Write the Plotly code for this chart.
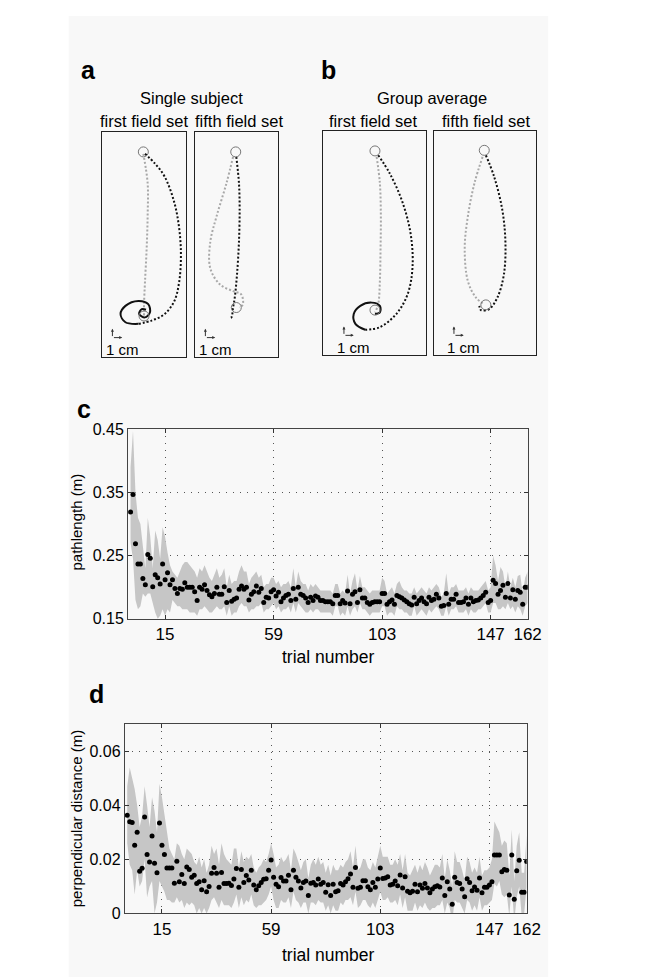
import plotly.graph_objects as go

W, H = 654, 978
FONT = "Liberation Sans, Arial, sans-serif"

# ---- panel a/b trajectories (cm, start target at origin) ----
a1_grey_x = [0.0, 0.44, 0.44, 0.34, 0.17, 0.07, 0.07]
a1_grey_y = [-0.2, -3.2, -6.5, -9.8, -13.2, -15.5, -16.7]
a1_black_x = [0.17, 1.17, 2.17, 3.17, 3.67, 3.84, 3.67, 3.17, 2.17, 0.84, -0.5]
a1_black_y = [-0.2, -1.17, -2.5, -5.17, -7.84, -10.5, -13.17, -15.17, -16.5, -17.17, -17.5]
a1_loop_x = [-0.5, -1.83, -2.33, -1.83, -0.5, 0.5, 0.67, 0.17, -0.43, -0.16, 0.27]
a1_loop_y = [-17.5, -17.34, -16.5, -15.67, -15.17, -15.5, -16.34, -16.84, -16.5, -16.0, -16.07]
a1_end = (0.07, -16.7)

a2_grey_x = [-0.27, -0.94, -1.94, -2.6, -2.6, -1.6, -0.27, 0.56, 0.73, 0.4]
a2_grey_y = [-0.5, -3.17, -6.5, -9.17, -11.84, -13.5, -14.17, -14.5, -15.5, -15.84]
a2_black_x = [0.06, 0.33, 0.4, 0.33, 0.13, -0.1, -0.27, -0.44, -0.6]
a2_black_y = [-0.5, -3.17, -5.84, -9.17, -12.5, -14.84, -15.84, -16.84, -16.9]
a2_end = (0.06, -15.84)

b1_grey_x = [0.17, 0.5, 0.6, 0.57, 0.5, 0.33, 0.0]
b1_grey_y = [-0.6, -3.27, -6.6, -9.94, -13.27, -15.6, -16.44]
b1_black_x = [0.33, 1.5, 2.83, 3.67, 3.83, 3.33, 2.17, 0.5, -1.0]
b1_black_y = [-0.44, -2.27, -5.27, -8.6, -11.94, -14.6, -16.6, -17.94, -18.2]
b1_loop_x = [-1.0, -2.0, -2.17, -1.5, -0.33, 0.5, 0.5, 0.0]
b1_loop_y = [-18.2, -17.6, -16.6, -15.77, -15.44, -15.77, -16.44, -16.6]
b1_end = (0.0, -16.2)

b2_grey_x = [-0.17, -1.0, -1.67, -2.0, -1.67, -0.84, 0.0]
b2_grey_y = [-0.66, -3.33, -6.66, -10.0, -13.33, -15.0, -15.66]
b2_black_x = [0.16, 1.0, 1.83, 2.16, 2.0, 1.33, 0.5, -0.34, -0.5]
b2_black_y = [-0.5, -2.66, -6.0, -9.33, -12.66, -15.0, -16.16, -16.26, -15.83]
b2_end = (0.16, -15.73)

# ---- panel c: pathlength per trial ----
trials = list(range(1, 163))
c_mean = [0.319, 0.347, 0.269, 0.237, 0.237, 0.214, 0.204, 0.252, 0.246, 0.201,
          0.220, 0.215, 0.205, 0.237, 0.212, 0.223, 0.204, 0.212, 0.198, 0.190,
          0.198, 0.197, 0.207, 0.200, 0.200, 0.200, 0.193, 0.179, 0.200, 0.197,
          0.204, 0.195, 0.188, 0.185, 0.190, 0.200, 0.189, 0.189, 0.201, 0.176,
          0.195, 0.178, 0.181, 0.183, 0.197, 0.202, 0.197, 0.200, 0.180, 0.189,
          0.193, 0.202, 0.192, 0.198, 0.176, 0.184, 0.183, 0.193, 0.196, 0.186,
          0.192, 0.177, 0.183, 0.187, 0.189, 0.179, 0.198, 0.181, 0.200, 0.189,
          0.187, 0.183, 0.176, 0.184, 0.179, 0.186, 0.184, 0.179, 0.179, 0.177,
          0.177, 0.177, 0.174, 0.187, 0.187, 0.174, 0.179, 0.175, 0.194, 0.174,
          0.189, 0.193, 0.176, 0.196, 0.183, 0.183, 0.176, 0.173, 0.176, 0.177,
          0.177, 0.177, 0.190, 0.190, 0.173, 0.177, 0.180, 0.173, 0.187, 0.185,
          0.183, 0.180, 0.177, 0.174, 0.172, 0.184, 0.174, 0.179, 0.183, 0.177,
          0.174, 0.184, 0.179, 0.181, 0.189, 0.183, 0.170, 0.171, 0.190, 0.173,
          0.181, 0.181, 0.189, 0.176, 0.176, 0.177, 0.183, 0.173, 0.183, 0.177,
          0.179, 0.180, 0.183, 0.187, 0.192, 0.176, 0.179, 0.211, 0.206, 0.189,
          0.195, 0.203, 0.184, 0.206, 0.183, 0.196, 0.181, 0.195, 0.192, 0.173,
          0.200, 0.200]
c_upper = [0.390, 0.448, 0.350, 0.310, 0.300, 0.260, 0.230, 0.310, 0.280, 0.230,
           0.290, 0.275, 0.245, 0.295, 0.280, 0.255, 0.235, 0.225, 0.220, 0.215,
           0.225, 0.235, 0.240, 0.240, 0.235, 0.230, 0.225, 0.215, 0.230, 0.225,
           0.235, 0.225, 0.215, 0.210, 0.220, 0.230, 0.215, 0.220, 0.230, 0.200,
           0.220, 0.205, 0.210, 0.210, 0.225, 0.235, 0.225, 0.225, 0.205, 0.215,
           0.220, 0.225, 0.215, 0.220, 0.200, 0.205, 0.205, 0.215, 0.215, 0.205,
           0.210, 0.200, 0.205, 0.205, 0.210, 0.200, 0.230, 0.200, 0.225, 0.210,
           0.205, 0.205, 0.195, 0.205, 0.200, 0.205, 0.200, 0.195, 0.195, 0.195,
           0.195, 0.195, 0.190, 0.205, 0.205, 0.190, 0.195, 0.190, 0.220, 0.190,
           0.210, 0.222, 0.195, 0.218, 0.200, 0.200, 0.195, 0.190, 0.195, 0.195,
           0.195, 0.195, 0.215, 0.210, 0.190, 0.195, 0.200, 0.190, 0.205, 0.210,
           0.200, 0.195, 0.195, 0.190, 0.190, 0.200, 0.190, 0.195, 0.200, 0.195,
           0.190, 0.200, 0.195, 0.200, 0.205, 0.200, 0.185, 0.190, 0.222, 0.190,
           0.200, 0.200, 0.205, 0.195, 0.195, 0.195, 0.200, 0.190, 0.200, 0.195,
           0.195, 0.195, 0.200, 0.205, 0.210, 0.195, 0.200, 0.250, 0.235, 0.210,
           0.232, 0.225, 0.200, 0.225, 0.200, 0.215, 0.200, 0.218, 0.220, 0.190,
           0.215, 0.225]
c_lower = [0.270, 0.245, 0.180, 0.165, 0.170, 0.190, 0.185, 0.190, 0.190, 0.175,
           0.160, 0.150, 0.155, 0.165, 0.155, 0.165, 0.160, 0.180, 0.175, 0.170,
           0.170, 0.165, 0.165, 0.165, 0.160, 0.160, 0.160, 0.155, 0.165, 0.165,
           0.170, 0.165, 0.160, 0.160, 0.165, 0.170, 0.165, 0.165, 0.170, 0.155,
           0.170, 0.155, 0.160, 0.160, 0.170, 0.175, 0.170, 0.170, 0.160, 0.165,
           0.165, 0.170, 0.170, 0.175, 0.160, 0.165, 0.165, 0.170, 0.175, 0.165,
           0.170, 0.160, 0.165, 0.165, 0.170, 0.160, 0.175, 0.160, 0.175, 0.170,
           0.165, 0.160, 0.160, 0.165, 0.160, 0.165, 0.165, 0.160, 0.160, 0.160,
           0.160, 0.160, 0.155, 0.170, 0.170, 0.155, 0.160, 0.155, 0.170, 0.155,
           0.165, 0.170, 0.160, 0.175, 0.165, 0.165, 0.160, 0.155, 0.160, 0.160,
           0.160, 0.160, 0.170, 0.170, 0.155, 0.160, 0.160, 0.155, 0.170, 0.165,
           0.165, 0.160, 0.160, 0.155, 0.155, 0.170, 0.155, 0.160, 0.165, 0.160,
           0.155, 0.165, 0.160, 0.165, 0.170, 0.165, 0.155, 0.155, 0.170, 0.155,
           0.165, 0.165, 0.170, 0.160, 0.160, 0.160, 0.165, 0.155, 0.165, 0.160,
           0.160, 0.165, 0.165, 0.170, 0.175, 0.160, 0.160, 0.175, 0.175, 0.165,
           0.165, 0.170, 0.165, 0.175, 0.165, 0.170, 0.160, 0.170, 0.165, 0.155,
           0.170, 0.175]

# ---- panel d: perpendicular distance per trial ----
d_mean = [0.0363, 0.0339, 0.0336, 0.0252, 0.0300, 0.0156, 0.0167, 0.0357, 0.0218, 0.0190,
          0.0286, 0.0186, 0.0150, 0.0334, 0.0252, 0.0218, 0.0168, 0.0168, 0.0168, 0.0112,
          0.0193, 0.0117, 0.0144, 0.0111, 0.0172, 0.0162, 0.0134, 0.0141, 0.0111, 0.0117,
          0.0088, 0.0121, 0.0080, 0.0100, 0.0149, 0.0170, 0.0149, 0.0097, 0.0151, 0.0111,
          0.0111, 0.0112, 0.0103, 0.0127, 0.0166, 0.0097, 0.0162, 0.0114, 0.0140, 0.0124,
          0.0160, 0.0105, 0.0088, 0.0102, 0.0114, 0.0126, 0.0128, 0.0160, 0.0198, 0.0134,
          0.0108, 0.0099, 0.0133, 0.0120, 0.0120, 0.0141, 0.0088, 0.0160, 0.0134, 0.0120,
          0.0094, 0.0114, 0.0120, 0.0066, 0.0112, 0.0114, 0.0105, 0.0127, 0.0108, 0.0114,
          0.0078, 0.0106, 0.0066, 0.0108, 0.0080, 0.0084, 0.0111, 0.0105, 0.0117, 0.0128,
          0.0146, 0.0097, 0.0170, 0.0093, 0.0097, 0.0121, 0.0121, 0.0099, 0.0088, 0.0114,
          0.0097, 0.0127, 0.0168, 0.0129, 0.0131, 0.0136, 0.0105, 0.0108, 0.0120, 0.0102,
          0.0142, 0.0094, 0.0136, 0.0082, 0.0076, 0.0082, 0.0108, 0.0080, 0.0105, 0.0093,
          0.0111, 0.0094, 0.0076, 0.0090, 0.0099, 0.0102, 0.0098, 0.0131, 0.0066, 0.0117,
          0.0090, 0.0034, 0.0134, 0.0114, 0.0111, 0.0090, 0.0062, 0.0128, 0.0114, 0.0084,
          0.0098, 0.0086, 0.0131, 0.0076, 0.0097, 0.0097, 0.0105, 0.0117, 0.0216, 0.0216,
          0.0216, 0.0154, 0.0162, 0.0160, 0.0068, 0.0216, 0.0052, 0.0158, 0.0197, 0.0078,
          0.0078, 0.0192]
d_upper = [0.047, 0.054, 0.050, 0.046, 0.040, 0.032, 0.036, 0.047, 0.040, 0.032,
           0.043, 0.038, 0.030, 0.048, 0.043, 0.036, 0.030, 0.024, 0.022, 0.020,
           0.026, 0.025, 0.022, 0.020, 0.024, 0.023, 0.022, 0.019, 0.018, 0.021,
           0.017, 0.020, 0.015, 0.018, 0.025, 0.022, 0.024, 0.018, 0.026, 0.022,
           0.020, 0.019, 0.018, 0.024, 0.024, 0.017, 0.023, 0.019, 0.021, 0.020,
           0.022, 0.017, 0.015, 0.017, 0.018, 0.020, 0.019, 0.022, 0.026, 0.022,
           0.017, 0.018, 0.021, 0.019, 0.020, 0.022, 0.016, 0.024, 0.022, 0.019,
           0.016, 0.019, 0.020, 0.013, 0.018, 0.020, 0.018, 0.021, 0.018, 0.019,
           0.015, 0.018, 0.014, 0.018, 0.016, 0.016, 0.018, 0.017, 0.019, 0.020,
           0.023, 0.017, 0.025, 0.016, 0.017, 0.020, 0.020, 0.017, 0.016, 0.019,
           0.017, 0.021, 0.025, 0.021, 0.021, 0.021, 0.018, 0.018, 0.020, 0.018,
           0.022, 0.016, 0.022, 0.015, 0.014, 0.016, 0.018, 0.015, 0.018, 0.016,
           0.019, 0.017, 0.014, 0.016, 0.018, 0.018, 0.017, 0.022, 0.013, 0.020,
           0.016, 0.010, 0.023, 0.019, 0.019, 0.016, 0.012, 0.021, 0.019, 0.015,
           0.017, 0.015, 0.021, 0.014, 0.016, 0.016, 0.017, 0.020, 0.034, 0.032,
           0.030, 0.025, 0.027, 0.026, 0.014, 0.031, 0.012, 0.025, 0.030, 0.015,
           0.015, 0.029]
d_lower = [0.026, 0.018, 0.016, 0.007, 0.016, 0.010, 0.012, 0.020, 0.006, 0.010,
           0.012, 0.000, 0.004, 0.012, 0.010, 0.008, 0.005, 0.005, 0.004, 0.004,
           0.006, 0.004, 0.005, 0.002, 0.004, 0.003, 0.004, 0.003, 0.000, 0.002,
           0.000, 0.002, 0.000, 0.002, 0.005, 0.006, 0.004, 0.002, 0.005, 0.003,
           0.003, 0.003, 0.002, 0.004, 0.007, 0.002, 0.006, 0.003, 0.005, 0.004,
           0.007, 0.003, 0.002, 0.003, 0.003, 0.004, 0.005, 0.007, 0.010, 0.005,
           0.002, 0.002, 0.005, 0.004, 0.004, 0.006, 0.002, 0.008, 0.005, 0.004,
           0.002, 0.004, 0.004, 0.000, 0.004, 0.004, 0.003, 0.005, 0.004, 0.004,
           0.001, 0.003, 0.000, 0.003, 0.001, 0.001, 0.004, 0.003, 0.005, 0.005,
           0.006, 0.003, 0.008, 0.002, 0.003, 0.005, 0.005, 0.003, 0.002, 0.004,
           0.002, 0.005, 0.008, 0.005, 0.005, 0.006, 0.004, 0.004, 0.005, 0.003,
           0.007, 0.002, 0.006, 0.001, 0.001, 0.001, 0.004, 0.001, 0.003, 0.002,
           0.004, 0.002, 0.001, 0.002, 0.002, 0.003, 0.003, 0.005, 0.000, 0.004,
           0.002, -0.003, 0.005, 0.004, 0.004, 0.002, 0.000, 0.005, 0.004, 0.001,
           0.003, 0.001, 0.006, 0.001, 0.003, 0.003, 0.004, 0.005, 0.011, 0.010,
           0.012, 0.007, 0.006, 0.007, -0.001, 0.010, -0.003, 0.006, 0.010, -0.001,
           0.000, 0.010]

trial_ticks = [15, 59, 103, 147, 162]
c_ticks = [0.15, 0.25, 0.35, 0.45]
d_ticks = [0, 0.02, 0.04, 0.06]
d_ticktext = ["0", "0.02", "0.04", "0.06"]


def dx(l, r):
    return [l / W, r / W]


def dy(t, b):
    return [1 - b / H, 1 - t / H]


fig = go.Figure()

GREY_TRAJ = "#a8a8a8"
BLACK_TRAJ = "#111111"
DOTS = "2px,2px"

panels = [
    # axis suffix, grey, black, loop, end target
    ("", a1_grey_x, a1_grey_y, a1_black_x, a1_black_y, a1_loop_x, a1_loop_y, a1_end),
    ("2", a2_grey_x, a2_grey_y, a2_black_x, a2_black_y, None, None, a2_end),
    ("3", b1_grey_x, b1_grey_y, b1_black_x, b1_black_y, b1_loop_x, b1_loop_y, b1_end),
    ("4", b2_grey_x, b2_grey_y, b2_black_x, b2_black_y, None, None, b2_end),
]
for sfx, gx, gy, bx, by, lx, ly, end in panels:
    xa, ya = "x" + sfx, "y" + sfx
    fig.add_trace(go.Scatter(x=gx, y=gy, mode="lines", xaxis=xa, yaxis=ya,
                             line=dict(color=GREY_TRAJ, width=2, dash=DOTS, shape="spline")))
    fig.add_trace(go.Scatter(x=bx, y=by, mode="lines", xaxis=xa, yaxis=ya,
                             line=dict(color=BLACK_TRAJ, width=2, dash=DOTS, shape="spline")))
    if lx is not None:
        fig.add_trace(go.Scatter(x=lx, y=ly, mode="lines", xaxis=xa, yaxis=ya,
                                 line=dict(color=BLACK_TRAJ, width=2, shape="spline")))
    fig.add_trace(go.Scatter(x=[0, end[0]], y=[0, end[1]], mode="markers", xaxis=xa, yaxis=ya,
                             marker=dict(symbol="circle-open", size=10,
                                         color="#777777", line=dict(width=1))))

# band + dots for c and d
for xa, ya, lo, up, mean in [("x5", "y5", c_lower, c_upper, c_mean),
                             ("x6", "y6", d_lower, d_upper, d_mean)]:
    fig.add_trace(go.Scatter(x=trials, y=lo, mode="lines", xaxis=xa, yaxis=ya,
                             line=dict(width=0, color="#c6c6c6")))
    fig.add_trace(go.Scatter(x=trials, y=up, mode="lines", xaxis=xa, yaxis=ya, fill="tonexty",
                             fillcolor="#c6c6c6", line=dict(width=0, color="#c6c6c6")))
    fig.add_trace(go.Scatter(x=trials, y=mean, mode="markers", xaxis=xa, yaxis=ya,
                             marker=dict(size=5, color="black")))

box_axis = dict(showgrid=False, zeroline=False, showticklabels=False, ticks="",
                showline=True, mirror=True, linecolor="#222", linewidth=1)

layout = dict(
    width=W, height=H, margin=dict(l=0, r=0, t=0, b=0),
    paper_bgcolor="white", plot_bgcolor="white", showlegend=False,
    font=dict(family=FONT, size=17, color="black"),
    xaxis=dict(box_axis, domain=dx(96, 182), range=[-4.23, 4.37]),
    yaxis=dict(box_axis, domain=dy(118, 347), range=[-20.87, 2.03]),
    xaxis2=dict(box_axis, domain=dx(191, 276), range=[-4.17, 4.33], anchor="y2"),
    yaxis2=dict(box_axis, domain=dy(118, 347), range=[-20.87, 2.03], anchor="x2"),
    xaxis3=dict(box_axis, domain=dx(322, 427), range=[-5.3, 5.2], anchor="y3"),
    yaxis3=dict(box_axis, domain=dy(117, 345), range=[-20.77, 2.03], anchor="x3"),
    xaxis4=dict(box_axis, domain=dx(435, 540), range=[-5.17, 5.33], anchor="y4"),
    yaxis4=dict(box_axis, domain=dy(117, 345), range=[-20.83, 1.97], anchor="x4"),
)

GRID_DOTS = "1px,6px"
data_x = dict(range=[0, 162], tickvals=trial_ticks, ticks="inside", ticklen=4,
              tickcolor="#333", showline=True, mirror="ticks", linecolor="#444",
              linewidth=1, showgrid=True, gridcolor="#555", griddash=GRID_DOTS,
              gridwidth=1, zeroline=False, tickfont=dict(size=17))
data_y = dict(ticks="inside", ticklen=4, tickcolor="#333", showline=True,
              mirror="ticks", linecolor="#444", linewidth=1, showgrid=True,
              gridcolor="#555", griddash=GRID_DOTS, gridwidth=1, zeroline=False,
              tickfont=dict(size=16))
layout["xaxis5"] = dict(data_x, domain=dx(122.7, 531), anchor="y5")
layout["yaxis5"] = dict(data_y, domain=dy(420.7, 613.5), anchor="x5", range=[0.15, 0.45],
                        tickvals=c_ticks, ticktext=["0.15", "0.25", "0.35", "0.45"])
layout["xaxis6"] = dict(data_x, domain=dx(119.3, 530), anchor="y6")
layout["yaxis6"] = dict(data_y, domain=dy(720.7, 913.3), anchor="x6", range=[0, 0.07],
                        tickvals=d_ticks, ticktext=d_ticktext)

fig.update_layout(**layout)

# light figure background like the scanned page
fig.add_shape(type="rect", xref="paper", yref="paper", x0=62 / W, x1=552 / W, y0=0, y1=1,
              fillcolor="#f8f8f8", line=dict(width=0), layer="below")


def txt(x, y, s, size=16.5, bold=False, angle=0):
    fig.add_annotation(x=x / W, y=1 - y / H, xref="paper", yref="paper",
                       text="<b>%s</b>" % s if bold else s, showarrow=False,
                       textangle=angle, xanchor="center", yanchor="middle",
                       font=dict(size=size, family=FONT, color="black"))


txt(82, 55, "a", 25, True)
txt(328, 55, "b", 25, True)
txt(78, 400, "c", 25, True)
txt(90, 690, "d", 25, True)
txt(188, 83, "Single subject")
txt(139, 107, "first field set")
txt(236, 107, "fifth field set")
txt(433, 83, "Group average")
txt(373, 107, "first field set")
txt(488, 107, "fifth field set")
txt(327, 652, "trial number", 17.5)
txt(327, 956, "trial number", 17.5)
txt(70, 515, "pathlength (m)", 15, angle=-90)
txt(70, 817, "perpendicular distance (m)", 15, angle=-90)

# scale arrows "1 cm"
for sfx, cx, cy in [("", -3.16, -18.9), ("2", -3.1, -18.9),
                    ("3", -3.17, -18.77), ("4", -3.1, -18.83)]:
    xr, yr = "x" + sfx, "y" + sfx
    for hx, hy in [(cx, cy + 0.9), (cx + 1.0, cy)]:
        fig.add_annotation(x=hx, y=hy, ax=cx, ay=cy, xref=xr, yref=yr, axref=xr, ayref=yr,
                           showarrow=True, arrowhead=2, arrowsize=0.6, arrowwidth=1,
                           arrowcolor="#333", text="")
    fig.add_annotation(x=cx + 1.0, y=cy - 1.2, xref=xr, yref=yr, text="1 cm",
                       showarrow=False, font=dict(size=15, family=FONT, color="black"))

fig.write_html("out.html")
